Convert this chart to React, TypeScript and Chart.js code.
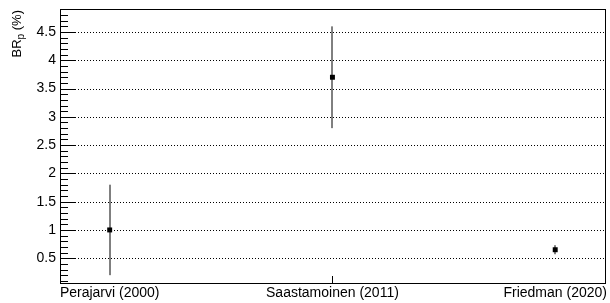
import React, { useEffect, useRef } from "react";
import { Chart, registerables } from "chart.js";

Chart.register(...registerables);

const categories = ["Perajarvi (2000)", "Saastamoinen (2011)", "Friedman (2020)"];
const xPositions = [1, 2, 3];
const values = [1.0, 3.7, 0.65];
const errors = [0.8, 0.9, 0.08];
const yTicks = [0.5, 1, 1.5, 2, 2.5, 3, 3.5, 4, 4.5];
const yMin = 0.044;
const yMax = 4.907;
const xMin = 0.777;
const xMax = 3.228;
const xTickMarks = [2];

const FONT = "'Liberation Sans', Arial, Helvetica, sans-serif";

const rootPlugin = {
  id: "rootStyle",
  beforeDatasetsDraw(chart: any) {
    const { ctx, chartArea } = chart;
    const xs = chart.scales.x;
    const ys = chart.scales.y;
    ctx.save();
    ctx.strokeStyle = "#000";
    ctx.lineWidth = 1;
    ctx.setLineDash([1, 2]);
    for (const t of yTicks) {
      const y = Math.round(ys.getPixelForValue(t)) + 0.5;
      ctx.beginPath();
      ctx.moveTo(chartArea.left, y);
      ctx.lineTo(chartArea.right, y);
      ctx.stroke();
    }
    ctx.setLineDash([]);
    ctx.strokeStyle = "#000";
    ctx.lineWidth = 1;
    for (let i = 0; i < values.length; i++) {
      const x = Math.round(xs.getPixelForValue(xPositions[i]));
      const y1 = ys.getPixelForValue(values[i] - errors[i]);
      const y2 = ys.getPixelForValue(values[i] + errors[i]);
      ctx.beginPath();
      ctx.moveTo(x, y1);
      ctx.lineTo(x, y2);
      ctx.stroke();
    }
    ctx.restore();
  },
  afterDatasetsDraw(chart: any) {
    const { ctx, chartArea } = chart;
    const xs = chart.scales.x;
    const ys = chart.scales.y;
    ctx.save();
    ctx.strokeStyle = "#000";
    ctx.lineWidth = 1;
    ctx.strokeRect(
      chartArea.left + 0.5,
      chartArea.top + 0.5,
      chartArea.right - chartArea.left - 1,
      chartArea.bottom - chartArea.top - 1
    );
    const left = chartArea.left;
    for (let k = 0; k <= 50; k++) {
      const v = k / 10;
      if (v < yMin || v > yMax) continue;
      const major = k % 5 === 0;
      const y = Math.round(ys.getPixelForValue(v)) + 0.5;
      ctx.beginPath();
      ctx.moveTo(left, y);
      ctx.lineTo(left + (major ? 16 : 8), y);
      ctx.stroke();
    }
    for (const t of xTickMarks) {
      const x = Math.round(xs.getPixelForValue(t)) + 0.5;
      ctx.beginPath();
      ctx.moveTo(x, chartArea.bottom);
      ctx.lineTo(x, chartArea.bottom - 8);
      ctx.stroke();
    }
    ctx.fillStyle = "#000";
    ctx.translate(21, 10);
    ctx.rotate(-Math.PI / 2);
    ctx.textBaseline = "alphabetic";
    ctx.textAlign = "left";
    const mainFont = "13px " + FONT;
    const subFont = "10px " + FONT;
    ctx.font = mainFont;
    const wBR = ctx.measureText("BR").width;
    const wRest = ctx.measureText(" (%)").width;
    ctx.font = subFont;
    const wP = ctx.measureText("p").width;
    const W = wBR + wP + wRest;
    let x = -W;
    ctx.font = mainFont;
    ctx.fillText("BR", x, 0);
    x += wBR;
    ctx.font = subFont;
    ctx.fillText("p", x, 3);
    x += wP;
    ctx.font = mainFont;
    ctx.fillText(" (%)", x, 0);
    ctx.restore();
  },
};

export default function App() {
  const ref = useRef<HTMLCanvasElement>(null);
  useEffect(() => {
    document.body.style.margin = "0";
    const canvas = ref.current!;
    const chart = new Chart(canvas, {
      type: "scatter",
      data: {
        datasets: [
          {
            data: xPositions.map((x, i) => ({ x, y: values[i] })),
            pointStyle: "rect",
            pointRadius: 3.5,
            backgroundColor: "#000",
            borderColor: "#000",
            borderWidth: 0,
            showLine: false,
          },
        ],
      },
      options: {
        animation: false,
        responsive: false,
        devicePixelRatio: 1,
        layout: { padding: { top: 9, right: 1, left: 0, bottom: 0 } },
        plugins: { legend: { display: false }, tooltip: { enabled: false } },
        scales: {
          x: {
            type: "linear",
            min: xMin,
            max: xMax,
            grid: { display: false, drawTicks: false },
            border: { display: false },
            afterBuildTicks: (scale: any) => {
              scale.ticks = xPositions.map((v) => ({ value: v }));
            },
            afterFit: (scale: any) => {
              scale.height = 19;
              scale.paddingLeft = 0;
              scale.paddingRight = 0;
            },
            ticks: {
              autoSkip: false,
              maxRotation: 0,
              minRotation: 0,
              padding: 1,
              color: "#000",
              font: { family: FONT, size: 14 },
              callback: (v: any) => categories[xPositions.indexOf(Number(v))] ?? "",
            },
          },
          y: {
            type: "linear",
            min: yMin,
            max: yMax,
            grid: { display: false, drawTicks: false },
            border: { display: false },
            afterBuildTicks: (scale: any) => {
              scale.ticks = yTicks.map((v) => ({ value: v }));
            },
            afterFit: (scale: any) => {
              scale.width = 60;
              scale.paddingTop = 0;
              scale.paddingBottom = 0;
            },
            ticks: {
              padding: 4,
              color: "#000",
              font: { family: FONT, size: 14 },
              callback: (v: any) => String(v),
            },
          },
        },
      },
      plugins: [rootPlugin],
    });
    return () => chart.destroy();
  }, []);
  return <canvas ref={ref} width={610} height={303} style={{ display: "block" }} />;
}
